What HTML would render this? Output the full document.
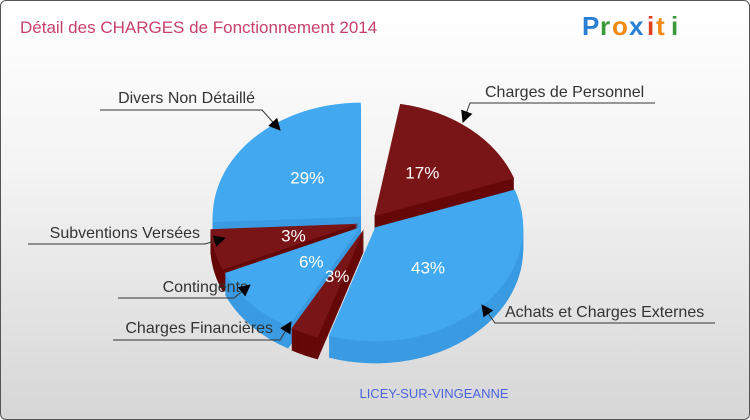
<!DOCTYPE html>
<html><head><meta charset="utf-8"><style>
html,body{margin:0;padding:0;}
body{width:750px;height:420px;overflow:hidden;font-family:"Liberation Sans",sans-serif;}
#wrap{position:absolute;left:0;top:0;width:748px;height:418px;border:1px solid #555;border-radius:6px;background:linear-gradient(#ffffff 0%,#f4f4f4 40%,#d6d6d6 100%);overflow:hidden;}
</style></head><body>
<div id="wrap">
<svg id="chart" width="750" height="420" style="position:absolute;left:-1px;top:-1px">
<text x="20" y="33" font-size="17" fill="#c8416a" font-family="Liberation Sans,sans-serif">Détail des CHARGES de Fonctionnement 2014</text>
<g font-family="Liberation Sans,sans-serif" font-size="26" font-weight="bold">
<text x="582" y="35" fill="#2a7fd4">P</text><text x="600" y="35" fill="#3a9a3a">r</text><text x="612" y="35" fill="#f08a10">o</text><text x="629" y="35" fill="#2a7fd4">x</text><text x="647" y="35" fill="#e04020">i</text><text x="656" y="35" fill="#f08a10">t</text><text x="671" y="35" fill="#3a9a3a">i</text>
</g>
<text x="434" y="398" font-size="13" fill="#4a64e0" text-anchor="middle">LICEY-SUR-VINGEANNE</text>
<g id="pie"></g>
<g id="labels"></g>
</svg>
</div>
<script>
const categories=["Charges de Personnel","Achats et Charges Externes","Charges Financières","Contingents","Subventions Versées","Divers Non Détaillé"];
const values=[17,43,3,6,3,29];
const pctLabels=["17%","43%","3%","6%","3%","29%"];
const colorsTop=["#7a1517","#42a9f0","#7a1517","#42a9f0","#7a1517","#42a9f0"];
const colorsSide=["#660808","#3a9be2","#660808","#3a9be2","#660808","#3a9be2"];
const NS="http://www.w3.org/2000/svg";
const cx=368,cy=222,rx=148,ry=114,depth=22,explode=10,startDeg=-80;
// perspective warp of the projected angle (degrees from start)
const warpIn=[0,61,216,227,248,259,360],warpOut=[0,61,190,202,240,262,350];
function warp(d){for(let k=1;k<warpIn.length;k++){if(d<=warpIn[k]){const t=(d-warpIn[k-1])/(warpIn[k]-warpIn[k-1]);return warpOut[k-1]+t*(warpOut[k]-warpOut[k-1]);}}return d;}
const total=values.reduce((a,b)=>a+b,0);
function pt(a,r){return [cx+rx*r*Math.cos(a),cy+ry*r*Math.sin(a)];}
const slices=[];let acc=0;
function ang(frac){return (startDeg+warp(frac*360))*Math.PI/180;}
values.forEach((v,i)=>{const a0=ang(acc/total);acc+=v;const a1=ang(Math.min(acc/total,1));const m=(a0+a1)/2;slices.push({i,a0,a1,m,dx:explode*Math.cos(m),dy:explode*Math.sin(m)*ry/rx});});
function path(s,off){const [x0,y0]=pt(s.a0,1),[x1,y1]=pt(s.a1,1);const large=(s.a1-s.a0)>Math.PI?1:0;const ox=s.dx,oy=s.dy+off;
return `M${cx+ox},${cy+oy} L${x0+ox},${y0+oy} A${rx},${ry} 0 ${large} 1 ${x1+ox},${y1+oy} Z`;}
const pie=document.getElementById('pie');
const order=[...slices].sort((a,b)=>Math.sin(a.m)-Math.sin(b.m));
order.forEach(s=>{
 const g=document.createElementNS(NS,'g');
 
 
 for(let k=depth;k>=1;k--){const p=document.createElementNS(NS,'path');p.setAttribute('d',path(s,k));p.setAttribute('fill',colorsSide[s.i]);g.appendChild(p);}
 const t=document.createElementNS(NS,'path');t.setAttribute('d',path(s,0));t.setAttribute('fill',colorsTop[s.i]);g.appendChild(t);
 pie.appendChild(g);
});
const lab=document.getElementById('labels');
slices.forEach(s=>{const r=values[s.i]<8?0.45:0.5;const [x,y]=pt(s.m,r);
 const t=document.createElementNS(NS,'text');
 
 
 t.setAttribute('x',x+s.dx);t.setAttribute('y',y+s.dy+6);t.setAttribute('fill','#fff');t.setAttribute('font-size','17');t.setAttribute('text-anchor','middle');t.setAttribute('font-family','Liberation Sans,sans-serif');t.textContent=pctLabels[s.i];lab.appendChild(t);});
// outside labels: [textX,textY,lineFarX,lineY,elbowX,anchor,tipX,tipY]
const ext=[[485,97,655,103,470,'start',463,122],[505,317,715,323,495,'start',482,305],[273,333,113,340,280,'end',291,322],[248,292,118,298,234,'end',250,285],[200,238,28,244,205,'end',225,238],[255,103,100,110,262,'end',280,130]];
const defs=document.createElementNS(NS,'defs');defs.innerHTML='<marker id="ar" markerWidth="12" markerHeight="12" refX="11" refY="6" orient="auto" markerUnits="userSpaceOnUse"><path d="M0,0 L12,6 L0,12 Z" fill="#000"/></marker>';lab.appendChild(defs);
slices.forEach(s=>{const e=ext[s.i];
 const t=document.createElementNS(NS,'text');
 
 
 t.setAttribute('x',e[0]);t.setAttribute('y',e[1]);t.setAttribute('font-size','16');t.setAttribute('fill','#333');t.setAttribute('text-anchor',e[5]);t.setAttribute('font-family','Liberation Sans,sans-serif');t.textContent=categories[s.i];lab.appendChild(t);
 const l=document.createElementNS(NS,'polyline');
 
 
 l.setAttribute('points',`${e[2]},${e[3]} ${e[4]},${e[3]} ${e[6]},${e[7]}`);l.setAttribute('fill','none');l.setAttribute('stroke','#333');l.setAttribute('stroke-width','1');l.setAttribute('marker-end','url(#ar)');lab.appendChild(l);});
</script>
</body></html>
